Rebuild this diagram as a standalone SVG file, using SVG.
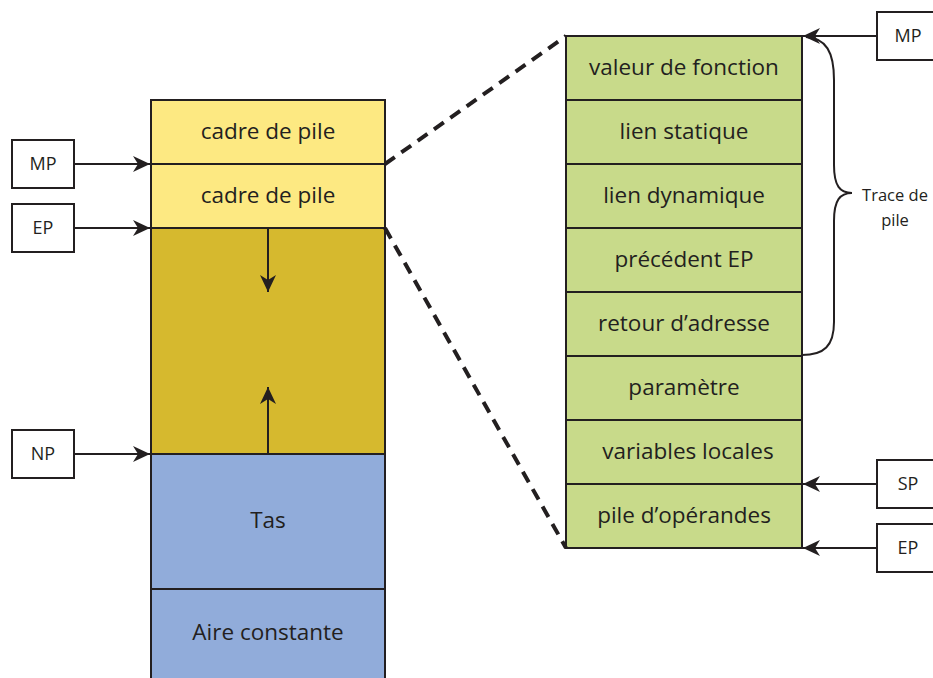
<svg xmlns="http://www.w3.org/2000/svg" width="933" height="678" viewBox="0 0 933 678">
<style>
.cell{stroke:#231f20;stroke-width:2}
.lbl{font-family:"Open Sans","Noto Sans",sans-serif;font-size:22.5px;fill:#231f20;text-anchor:middle;dominant-baseline:central}
.sm{font-family:"Open Sans","Noto Sans",sans-serif;font-size:18px;fill:#231f20;text-anchor:middle;dominant-baseline:central}
.tr{font-family:"Open Sans","Noto Sans",sans-serif;font-size:16.5px;fill:#231f20;text-anchor:middle}
.box{fill:#fff;stroke:#231f20;stroke-width:2}
.ln{stroke:#231f20;stroke-width:2;fill:none}
.dash{stroke:#231f20;stroke-width:4;stroke-dasharray:12 8;fill:none}
</style>
<defs>
<marker id="ah" markerUnits="userSpaceOnUse" viewBox="-18 -9 20 18" refX="0" refY="0" markerWidth="20" markerHeight="18" orient="auto">
<path d="M0,0 L-17,-8 L-12,0 L-17,8 Z" fill="#231f20"/>
</marker>
</defs>
<g id="pile-gauche">
<rect class="cell" x="151" y="100" width="234" height="64" fill="#fde982"/>
<text class="lbl" x="268" y="130.5">cadre de pile</text>
<rect class="cell" x="151" y="164" width="234" height="64" fill="#fde982"/>
<text class="lbl" x="268" y="194.5">cadre de pile</text>
<rect class="cell" x="151" y="228" width="234" height="226" fill="#d6b92e"/>
<rect class="cell" x="151" y="454" width="234" height="135" fill="#91acda"/>
<text class="lbl" x="268" y="519.5">Tas</text>
<rect class="cell" x="151" y="589" width="234" height="95" fill="#91acda"/>
<text class="lbl" x="268" y="631.5">Aire constante</text>
</g>
<g id="pile-droite">
<rect class="cell" x="566" y="36" width="236" height="64" fill="#c8da8a"/>
<text class="lbl" x="684" y="66.5">valeur de fonction</text>
<rect class="cell" x="566" y="100" width="236" height="64" fill="#c8da8a"/>
<text class="lbl" x="684" y="130.5">lien statique</text>
<rect class="cell" x="566" y="164" width="236" height="64" fill="#c8da8a"/>
<text class="lbl" x="684" y="194.5">lien dynamique</text>
<rect class="cell" x="566" y="228" width="236" height="64" fill="#c8da8a"/>
<text class="lbl" x="684" y="258.5">précédent EP</text>
<rect class="cell" x="566" y="292" width="236" height="64" fill="#c8da8a"/>
<text class="lbl" x="684" y="322.5">retour d’adresse</text>
<rect class="cell" x="566" y="356" width="236" height="64" fill="#c8da8a"/>
<text class="lbl" x="684" y="386.5">paramètre</text>
<rect class="cell" x="566" y="420" width="236" height="64" fill="#c8da8a"/>
<text class="lbl" x="688" y="450.5">variables locales</text>
<rect class="cell" x="566" y="484" width="236" height="64" fill="#c8da8a"/>
<text class="lbl" x="684" y="514.5">pile d’opérandes</text>
</g>
<g id="MP-gauche"><rect class="box" x="12" y="140" width="62" height="48"/><text class="sm" x="43" y="163">MP</text></g>
<g id="EP-gauche"><rect class="box" x="12" y="204" width="62" height="48"/><text class="sm" x="43" y="227">EP</text></g>
<g id="NP"><rect class="box" x="12" y="430" width="62" height="48"/><text class="sm" x="43" y="453">NP</text></g>
<g id="MP-droite"><rect class="box" x="877" y="12" width="62" height="48"/><text class="sm" x="908" y="35">MP</text></g>
<g id="SP"><rect class="box" x="877" y="460" width="62" height="48"/><text class="sm" x="908" y="483">SP</text></g>
<g id="EP-droite"><rect class="box" x="877" y="524" width="62" height="48"/><text class="sm" x="908" y="547">EP</text></g>
<g id="trace">
<text class="tr" x="895" y="201">Trace de</text>
<text class="tr" x="895" y="226">pile</text>
</g>
<g id="connecteurs">
<line class="ln" x1="74" y1="164" x2="150" y2="164" marker-end="url(#ah)"/>
<line class="ln" x1="74" y1="228" x2="150" y2="228" marker-end="url(#ah)"/>
<line class="ln" x1="74" y1="454" x2="150" y2="454" marker-end="url(#ah)"/>
<line class="ln" x1="268" y1="229" x2="268" y2="292" marker-end="url(#ah)"/>
<line class="ln" x1="268" y1="453" x2="268" y2="387" marker-end="url(#ah)"/>
<line class="ln" x1="877" y1="36" x2="803" y2="36" marker-end="url(#ah)"/>
<line class="ln" x1="877" y1="484" x2="803" y2="484" marker-end="url(#ah)"/>
<line class="ln" x1="877" y1="548" x2="803" y2="548" marker-end="url(#ah)"/>
<path class="ln" d="M806,37 C826,38 834,52 834,80 L834,165 C834,186 840,193 852,193 C840,193 834,200 834,221 L834,322 C834,346 824,355 802,355"/>
<line class="dash" x1="385" y1="164" x2="566" y2="36"/>
<line class="dash" x1="385" y1="228" x2="566" y2="548"/>
</g>
</svg>
